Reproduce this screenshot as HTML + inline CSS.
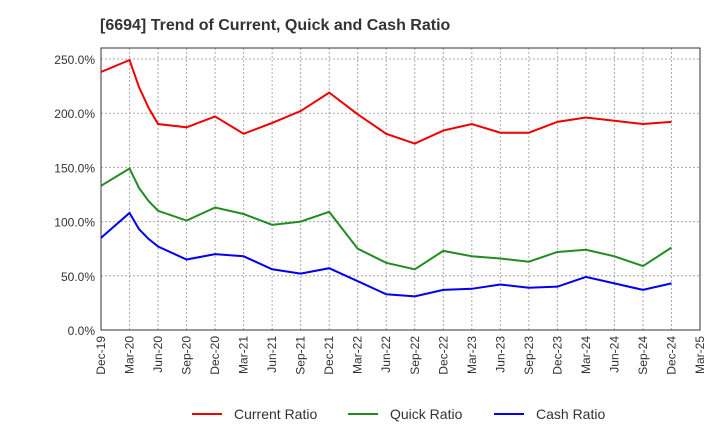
<!DOCTYPE html>
<html><head><meta charset="utf-8"><style>
body{margin:0;background:#fff;font-family:"Liberation Sans",sans-serif}
</style></head><body>
<svg id="c" width="720" height="440" xmlns="http://www.w3.org/2000/svg">
<text x="100" y="30" font-size="16" font-weight="bold" fill="#333">[6694]  Trend of Current, Quick and Cash Ratio</text>
<g id="grid"></g><g id="series"></g><g id="legend"></g>
</svg>
<script>
const months=[0,3,4,5,6,9,12,15,18,21,24,27,30,33,36,39,42,45,48,51,54,57,60];
const currentRatio=[238,249,224,205,190,187,197,181,191,202,219,199,181,172,184,190,182,182,192,196,193,190,192];
const quickRatio=[133,149,131,119,110,101,113,107,97,100,109,75,62,56,73,68,66,63,72,74,68,59,76];
const cashRatio=[85,108,93,84,77,65,70,68,56,52,57,45,33,31,37,38,42,39,40,49,43,37,43];
const xLabels=["Dec-19","Mar-20","Jun-20","Sep-20","Dec-20","Mar-21","Jun-21","Sep-21","Dec-21","Mar-22","Jun-22","Sep-22","Dec-22","Mar-23","Jun-23","Sep-23","Dec-23","Mar-24","Jun-24","Sep-24","Dec-24","Mar-25"];
const yTicks=[0,50,100,150,200,250];
const L=101,R=700,T=48,B=330;
const x=m=>L+m*(R-L)/63, y=v=>B-v*(B-59)/250;
const ns="http://www.w3.org/2000/svg";
function mk(p,t,a){const e=document.createElementNS(ns,t);for(const k in a)e.setAttribute(k,a[k]);p.appendChild(e);return e;}
const g=document.getElementById('grid');
yTicks.forEach(v=>{
 const l=mk(g,'line',{x1:L,x2:R,y1:y(v),y2:y(v),stroke:'#aaa','stroke-dasharray':'2,2'});
 
 
 const t=mk(g,'text',{x:L-6,y:y(v)+5,'text-anchor':'end','font-size':12,fill:'#333'});t.textContent=v.toFixed(1)+'%';
 
 
});
xLabels.forEach((s,i)=>{
 const xx=x(i*3);
 if(i>0&&i<xLabels.length-1){const l=mk(g,'line',{x1:xx,x2:xx,y1:T,y2:B,stroke:'#aaa','stroke-dasharray':'2,2'});
 
 }
 const t=mk(g,'text',{transform:`translate(${xx+4},${B+6}) rotate(-90)`,'text-anchor':'end','font-size':12,fill:'#333'});t.textContent=s;
 
 
});
const fr=mk(g,'rect',{x:L,y:T,width:R-L,height:B-T,fill:'none',stroke:'#333'});


const sg=document.getElementById('series');
[[currentRatio,'#e00','current-ratio-line'],[quickRatio,'#228b22','quick-ratio-line'],[cashRatio,'#00e','cash-ratio-line']].forEach(([d,c,n])=>{
 const p=mk(sg,'polyline',{points:d.map((v,i)=>x(months[i])+','+y(v)).join(' '),fill:'none',stroke:c,'stroke-width':2});
 
 
});
const lg=document.getElementById('legend');
[['Current Ratio','#e00',192],['Quick Ratio','#228b22',348],['Cash Ratio','#00e',494]].forEach(([s,c,lx])=>{
 const l=mk(lg,'line',{x1:lx,x2:lx+30,y1:414,y2:414,stroke:c,'stroke-width':2});
 
 
 const t=mk(lg,'text',{x:lx+42,y:419,'font-size':14,fill:'#333'});t.textContent=s;
 
 
});
</script>
</body></html>
